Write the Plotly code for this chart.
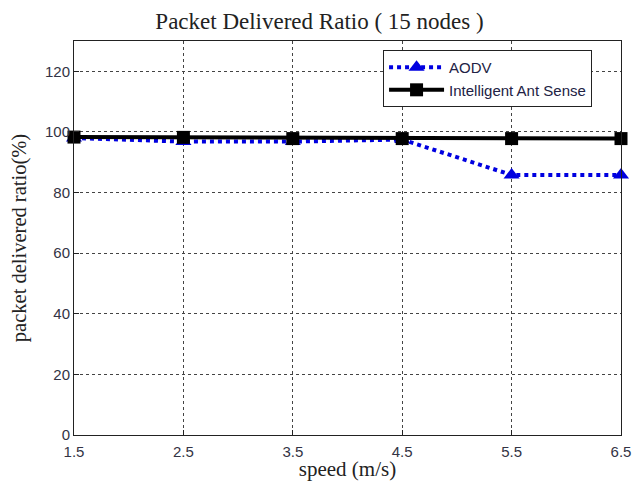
import plotly.graph_objects as go

speed = [1.5, 2.5, 3.5, 4.5, 5.5, 6.5]
aodv = [98.0, 96.8, 96.8, 97.5, 85.8, 85.8]
ias = [98.3, 98.2, 97.8, 97.8, 97.8, 97.8]
x_ticks = [1.5, 2.5, 3.5, 4.5, 5.5, 6.5]
y_ticks = [0, 20, 40, 60, 80, 100, 120]

fig = go.Figure()
fig.add_trace(go.Scatter(
    x=speed, y=aodv, name="AODV", mode="lines+markers", cliponaxis=False,
    line=dict(color="#0000e0", width=4, dash="dot"),
    marker=dict(symbol="triangle-up", size=14, color="#0000e0"),
))
fig.add_trace(go.Scatter(
    x=speed, y=ias, name="Intelligent Ant Sense", mode="lines+markers", cliponaxis=False,
    line=dict(color="black", width=4),
    marker=dict(symbol="square", size=13, color="black"),
))

axis_common = dict(
    showline=True, linecolor="#222222", linewidth=1, mirror=True,
    showgrid=True, gridcolor="#444444", griddash="3px,3px", gridwidth=1,
    ticks="inside", ticklen=5, tickcolor="#222222", zeroline=False,
    automargin=False,
    tickfont=dict(family="Liberation Sans, Arial", size=15, color="#333344"),
)

serif = "Liberation Serif, Times New Roman"

fig.update_layout(
    width=639, height=481,
    margin=dict(l=74, r=18, t=41, b=46),
    paper_bgcolor="white", plot_bgcolor="white",
    title=dict(text="Packet Delivered Ratio ( 15 nodes )", x=0.5, xanchor="center",
               y=0.956, yanchor="middle",
               font=dict(family=serif, size=23, color="#222222")),
    xaxis=dict(range=[1.5, 6.5], tickvals=x_ticks, ticktext=[str(v) for v in x_ticks],
               ticklabelstandoff=3,
               title=dict(text="speed (m/s)", standoff=0,
                          font=dict(family=serif, size=21, color="#222222")),
               **axis_common),
    yaxis=dict(range=[0, 130], tickvals=y_ticks,
               title=dict(text="packet delivered ratio(%)", standoff=12,
                          font=dict(family=serif, size=20.5, color="#222222")),
               **axis_common),
    legend=dict(x=0.565, y=0.977, xanchor="left", yanchor="top",
                bgcolor="white", bordercolor="#222222", borderwidth=1,
                font=dict(family="Liberation Sans, Arial", size=15, color="#222244"),
                tracegroupgap=0, itemwidth=55),
    showlegend=True,
)

fig.write_html("out.html")
